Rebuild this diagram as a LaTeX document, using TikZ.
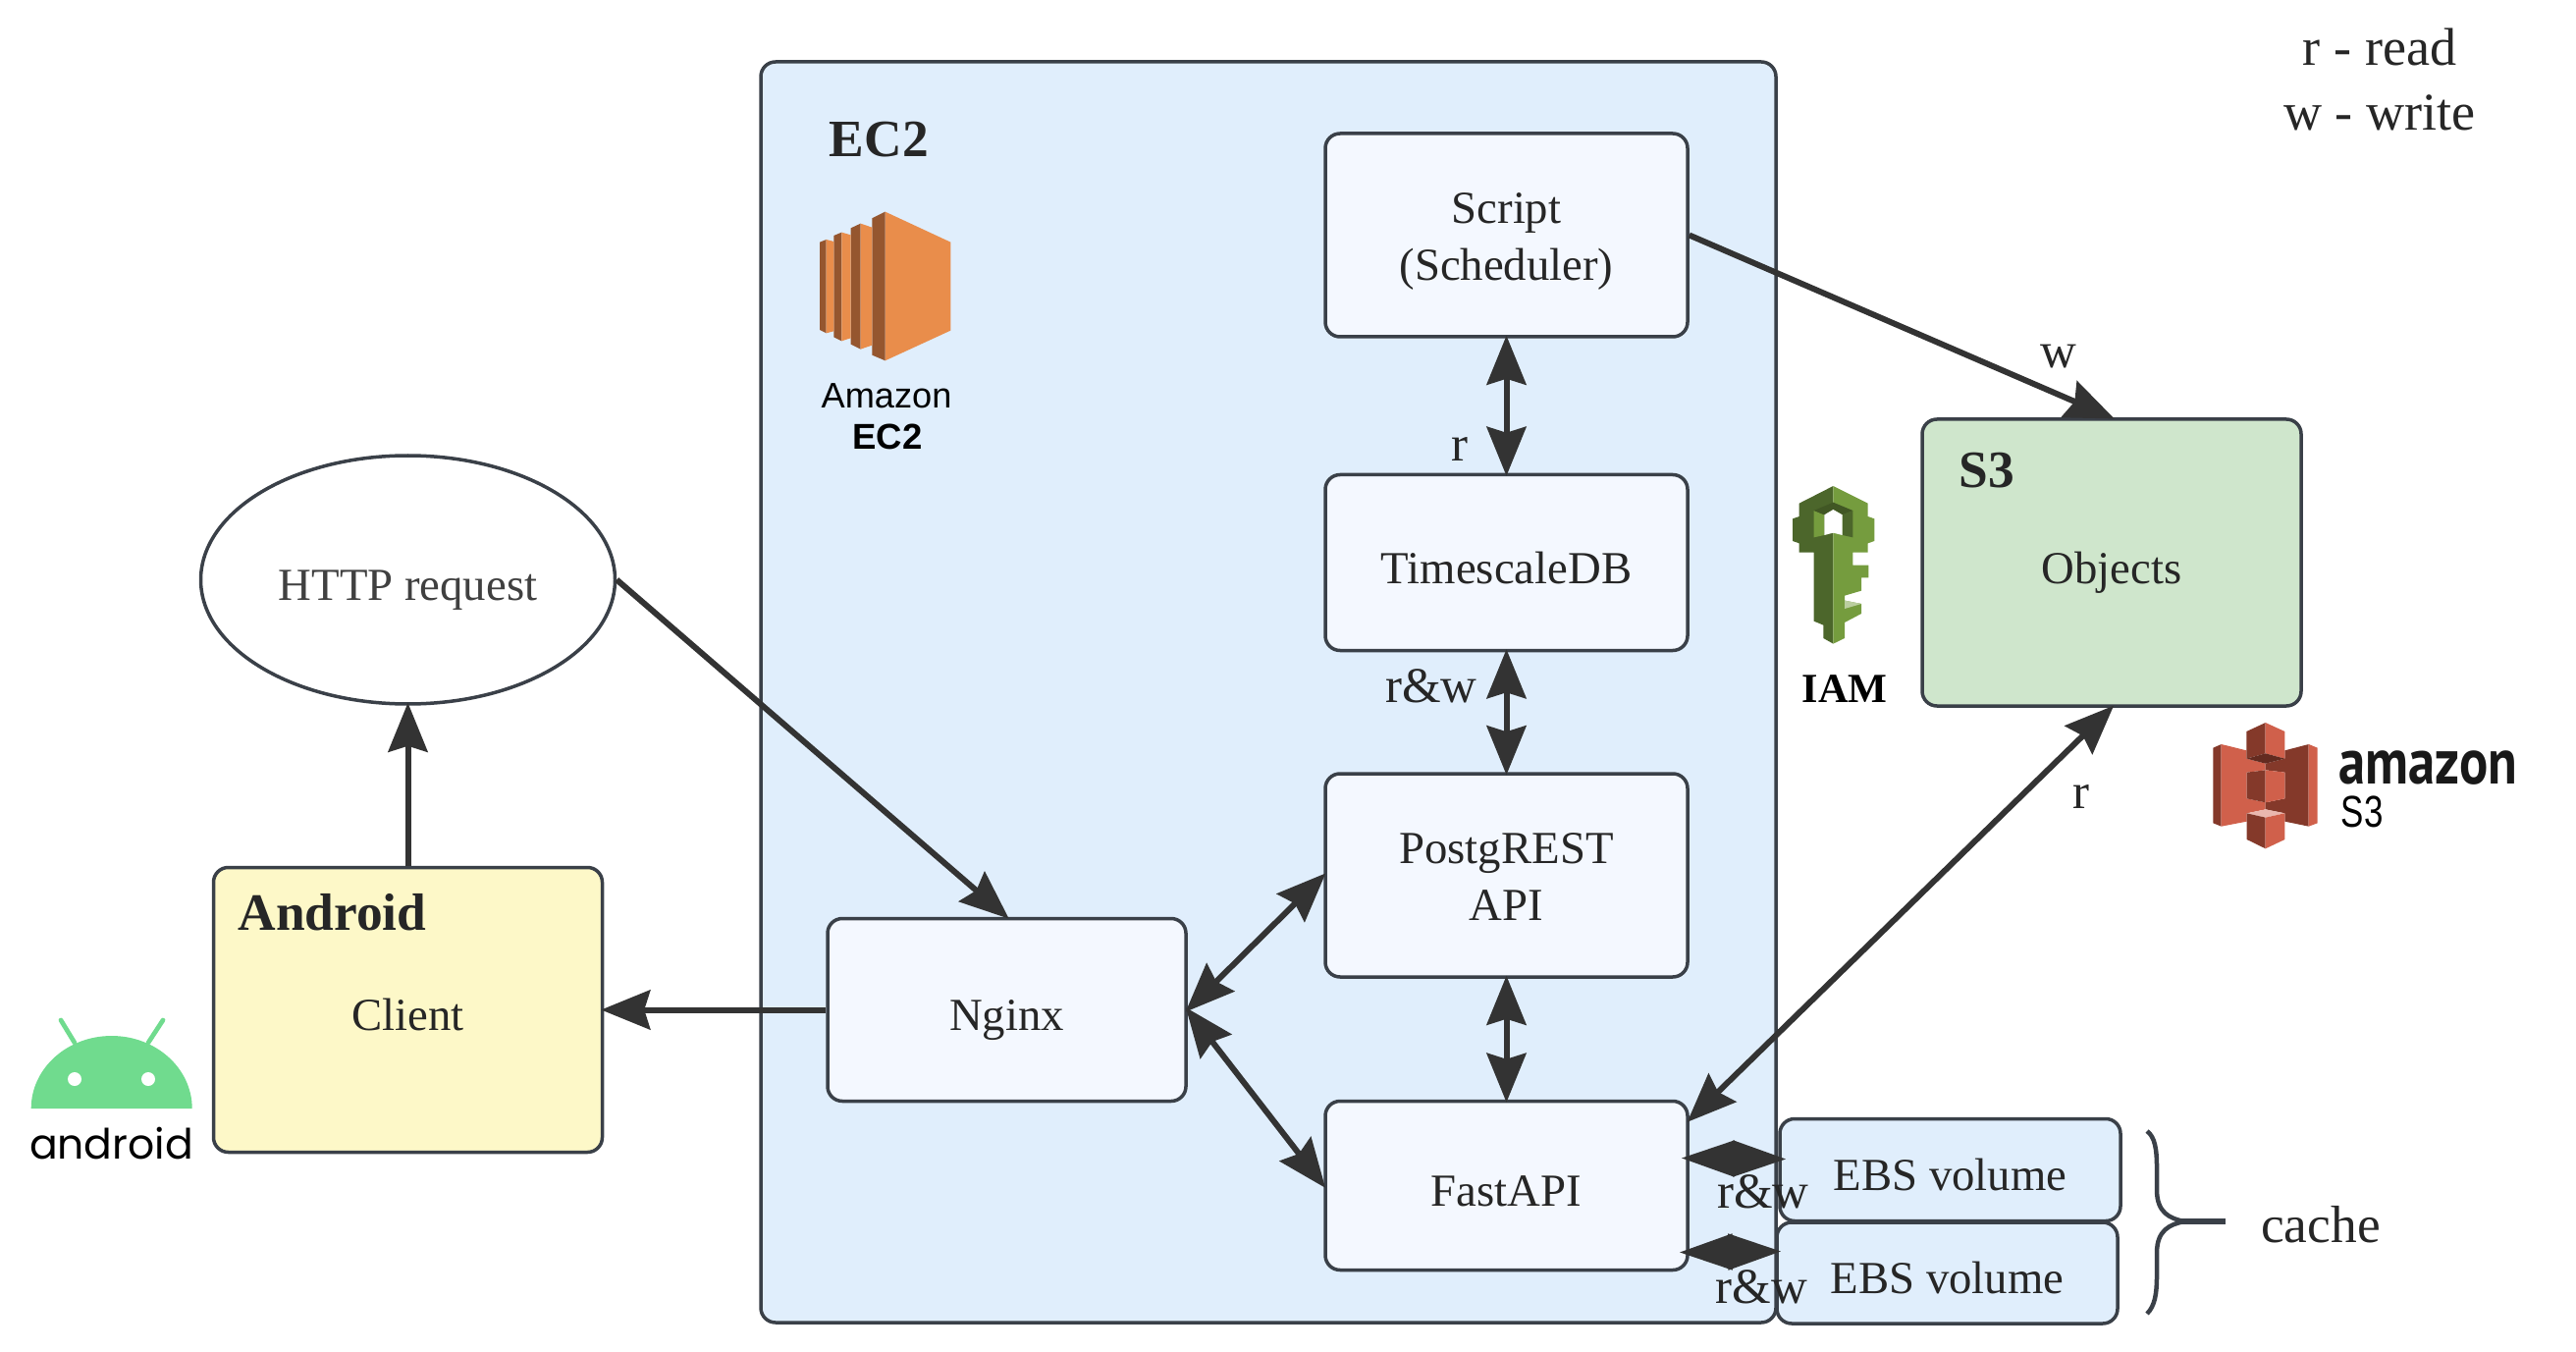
\documentclass[tikz,border=0pt]{standalone}
\usepackage{fontspec}
\setmainfont{Liberation Serif}
\newfontfamily\awsfont{Liberation Sans}
\newfontfamily\droidfont{Poppins}
\newfontfamily\logofont{PT Sans}
\usetikzlibrary{arrows.meta}
\usetikzlibrary{positioning}
\usetikzlibrary{shapes.geometric}
\definecolor{linedark}{HTML}{333333}
\definecolor{boxedge}{HTML}{3A4048}
\definecolor{frameblue}{HTML}{E0EEFC}
\definecolor{boxblue}{HTML}{F4F8FF}
\definecolor{droidyellow}{HTML}{FDF8C8}
\definecolor{bucketgreen}{HTML}{CFE6CC}
\definecolor{ec2light}{HTML}{E98D4B}
\definecolor{ec2dark}{HTML}{95562F}
\definecolor{s3light}{HTML}{D0604B}
\definecolor{s3dark}{HTML}{84392A}
\definecolor{keylight}{HTML}{759C3E}
\definecolor{keydark}{HTML}{4C662B}
\definecolor{droidgreen}{HTML}{70DB8E}
\tikzset{
    block/.style={
           rectangle,
           rounded corners=1.5mm,
           draw=boxedge, line width=0.35mm,
           fill=boxblue,
           text=black!85,
           font=\fontsize{13.3}{16.5}\selectfont,
           inner sep=0pt,
           text height=4.2mm,
           text depth=0pt,
           text centered,
           },
    twolines/.style={
           text height=10pt,
           text depth=0pt,
           },
    frameless/.style={
           inner sep=0pt,
           text=black!85,
           font=\fontsize{14.5}{17}\selectfont,
           },
    titletext/.style={
           frameless,
           anchor=base west,
           font=\fontsize{15.2}{18}\selectfont\bfseries,
           },
    oneway/.style={
           color=linedark, line width=0.6mm,
           shorten >=-0.3mm,
           -{Stealth[length=5mm,width=4mm,inset=0.6mm]},
           },
    twoway/.style={
           color=linedark, line width=0.6mm,
           shorten >=-0.3mm, shorten <=-0.3mm,
           {Stealth[length=5mm,width=4mm,inset=0.6mm]}-{Stealth[length=5mm,width=4mm,inset=0.6mm]},
           },
    twowayshort/.style={
           color=linedark, line width=0.5mm,
           {Stealth[length=5.4mm,width=3.6mm,inset=0mm]}-{Stealth[length=5.4mm,width=3.6mm,inset=0mm]},
           },
}

\begin{document}
\begin{tikzpicture}
	\useasboundingbox (0,0) rectangle (26.24,13.76);

	\node[block, fill=frameblue, minimum width=10.34cm, minimum height=12.84cm] (ec2) at (12.92,6.71) {};
	\node[titletext] (ec2title) at ([xshift=0.71cm,yshift=-0.98cm]ec2.north west) {EC2};

	\node[block, twolines, minimum width=3.69cm, minimum height=2.07cm] (script) at (15.345,11.365) {
		\begin{tabular}{c}
		Script\\
		(Scheduler)
		\end{tabular}
	};
	\node[block, below=1.37cm of script, minimum width=3.69cm, minimum height=1.79cm] (timescale) {TimescaleDB};
	\node[block, twolines, below=1.22cm of timescale, minimum width=3.69cm, minimum height=2.07cm] (postgrest) {
		\begin{tabular}{c}
		PostgREST\\
		API
		\end{tabular}
	};
	\node[block, below=1.23cm of postgrest, minimum width=3.69cm, minimum height=1.72cm] (fastapi) {FastAPI};
	\node[block, minimum width=3.65cm, minimum height=1.86cm] (nginx) at (10.255,3.475) {Nginx};
	\node[block, left=2.26cm of nginx, fill=droidyellow, minimum width=3.96cm, minimum height=2.9cm] (client) {Client};
	\node[titletext] (clienttitle) at ([xshift=0.26cm,yshift=-0.66cm]client.north west) {Android};
	\node[block, above=1.63cm of client, ellipse, fill=white, text=black!75, minimum width=4.22cm, minimum height=2.53cm] (http) {HTTP request};

	\node[block, fill=bucketgreen, minimum width=3.86cm, minimum height=2.92cm] (s3) at (21.51,8.03) {Objects};
	\node[titletext] (s3title) at ([xshift=0.39cm,yshift=-0.71cm]s3.north west) {S3};
	\node[block, fill=frameblue, minimum width=3.47cm, minimum height=1.04cm] (ebsa) at (19.865,1.845) {EBS volume};
	\node[block, below=-0.02cm of ebsa, xshift=-0.03cm, fill=frameblue, minimum width=3.47cm, minimum height=1.03cm] (ebsb) {EBS volume};

	\node[frameless, font=\fontsize{15.4}{18.7}\selectfont, align=center] (legend) at (24.24,12.95) {r - read\\w - write};
	\node[frameless, anchor=base, font=\fontsize{15.2}{18}\selectfont] (cache) at (23.64,1.11) {cache};
	\node[frameless, anchor=base, text=black, font=\fontsize{12}{14}\selectfont\bfseries] (iam) at (18.79,6.61) {IAM};

	\path[oneway] (script.east) edge node[pos=0.874,above=0.24cm,frameless] {w} (s3.north);
	\path[twoway] (script) edge node[pos=0.82,left=0.36cm,frameless] {r} (timescale);
	\path[twoway] (timescale) edge node[pos=0.28,left=0.27cm,frameless] {r\&w} (postgrest);
	\path[twoway] (postgrest) edge (fastapi);
	\path[twoway] (nginx.east) edge (postgrest.west);
	\path[twoway] (nginx.east) edge (fastapi.west);
	\path[twoway] ([yshift=-0.21cm]fastapi.north east) edge node[pos=0.785,right=0.5cm,frameless] {r} (s3.south);
	\path[oneway] (http.east) edge (nginx.north);
	\path[oneway] (client.north) edge (http.south);
	\path[oneway] (nginx.west) edge (client.east);
	\path[twowayshort] ([xshift=-0.08cm,yshift=0.28cm]fastapi.east) edge node[pos=0.78,below=0.14cm,frameless] {r\&w} ([xshift=0.08cm,yshift=0.11cm]ebsa.west);
	\path[twowayshort] ([xshift=-0.1cm,yshift=-0.68cm]fastapi.east) edge node[pos=0.81,below=0.16cm,frameless] {r\&w} ([xshift=0.06cm,yshift=0.22cm]ebsb.west);

	% icons, traced in pixels from the top left
	\begin{scope}[x=0.1mm,y=-0.1mm,yshift=13.76cm]
		% cache brace
		\draw[boxedge, line width=0.45mm] (2187,1152) .. controls (2195,1158) and (2197,1170) .. (2197,1190) -- (2197,1212) .. controls (2197,1235) and (2210,1241) .. (2225,1244) .. controls (2210,1247) and (2197,1253) .. (2197,1276) -- (2197,1298) .. controls (2197,1318) and (2195,1330) .. (2187,1338);
		\draw[boxedge, line width=0.6mm] (2218,1244) -- (2267,1244);
		% android
		\fill[droidgreen] (31.7,1129) arc[start angle=180,end angle=0,x radius=8.2mm,y radius=7.4mm] -- cycle;
		\draw[droidgreen, line width=0.47mm, line cap=round] (62,1039) -- (76,1062);
		\draw[droidgreen, line width=0.47mm, line cap=round] (166,1039) -- (151,1062);
		\fill[white] (76,1099) circle[radius=0.7mm];
		\fill[white] (151,1099) circle[radius=0.7mm];
		\node[anchor=base, inner sep=0pt, font=\droidfont\fontsize{12.1}{14}\selectfont] (droidlogo) at (113.5,1180) {android};
		% ec2
		\begin{scope}[shift={(780,60)},scale=0.3333]
			\fill[ec2light] (365,467) -- (565,560) -- (565,830) -- (365,922) -- cycle;
			\fill[ec2dark] (325,487) -- (365,467) -- (365,922) -- (325,905) -- cycle;
			\fill[ec2dark] (260,517) -- (290,503) -- (290,887) -- (260,872) -- cycle;
			\fill[ec2light] (290,503) -- (325,515) -- (325,875) -- (290,887) -- cycle;
			\fill[ec2dark] (208,540) -- (232,530) -- (232,862) -- (208,850) -- cycle;
			\fill[ec2light] (232,530) -- (260,538) -- (260,853) -- (232,862) -- cycle;
			\fill[ec2dark] (165,560) -- (185,552) -- (185,838) -- (165,828) -- cycle;
			\fill[ec2light] (185,552) -- (208,558) -- (208,832) -- (185,838) -- cycle;
		\end{scope}
		\node[anchor=base, inner sep=0pt, font=\awsfont\fontsize{10.3}{12}\selectfont] (ec2word) at (903,415) {Amazon};
		\node[anchor=base, inner sep=0pt, font=\awsfont\fontsize{10.4}{12}\selectfont\bfseries] (ec2logo) at (904,457) {EC2};
		% key
		\begin{scope}[shift={(1810,490)},scale=0.3333]
			\fill[keydark] (172,15) -- (68,68) -- (68,108) -- (48,115) -- (48,183) -- (68,190) -- (68,218) -- (113,218) -- (113,428) -- (142,440) -- (142,480) -- (172,497) -- cycle;
			\fill[keylight] (172,15) -- (278,68) -- (278,108) -- (298,115) -- (298,183) -- (278,190) -- (278,218) -- (232,218) -- (232,257) -- (280,257) -- (280,295) -- (258,295) -- (258,335) -- (207,350) -- (207,365) -- (258,375) -- (258,405) -- (207,432) -- (207,480) -- (172,497) -- cycle;
			\fill[keylight!50!white] (207,365) -- (258,375) -- (207,390) -- cycle;
			\fill[keylight] (113,90) -- (145,103) -- (145,165) -- (113,172) -- cycle;
			\fill[keydark] (232,90) -- (200,103) -- (200,165) -- (232,172) -- cycle;
			\fill[keydark!85!black] (113,90) -- (172,65) -- (232,90) -- (200,103) -- (172,87) -- (145,103) -- cycle;
			\fill[white] (145,103) -- (172,87) -- (200,103) -- (200,165) -- (172,158) -- (145,165) -- cycle;
		\end{scope}
		% s3
		\begin{scope}[shift={(2250,730)},scale=0.3333]
			\fill[s3dark] (13,95) -- (38,84) -- (38,335) -- (13,325) -- cycle;
			\fill[s3light] (38,84) -- (115,103) -- (115,128) -- (173,143) -- (173,163) -- (116,170) -- (116,250) -- (173,262) -- (173,283) -- (116,295) -- (116,320) -- (38,335) -- cycle;
			\fill[s3dark] (232,103) -- (305,84) -- (305,335) -- (232,320) -- (232,295) -- (173,283) -- (173,262) -- (232,250) -- (232,170) -- (173,163) -- (173,143) -- (232,128) -- cycle;
			\fill[s3light] (305,84) -- (332,95) -- (332,325) -- (305,335) -- cycle;
			\fill[s3dark] (115,45) -- (173,18) -- (173,112) -- (115,128) -- cycle;
			\fill[s3light] (173,18) -- (232,45) -- (232,128) -- (173,112) -- cycle;
			\fill[s3dark!75!black] (115,128) -- (173,112) -- (232,128) -- (173,143) -- cycle;
			\fill[s3dark] (116,170) -- (173,163) -- (173,262) -- (116,250) -- cycle;
			\fill[s3light] (173,163) -- (232,170) -- (232,250) -- (173,262) -- cycle;
			\fill[s3light!45!white] (116,295) -- (173,283) -- (232,295) -- (173,308) -- cycle;
			\fill[s3dark] (116,295) -- (173,308) -- (173,403) -- (116,375) -- cycle;
			\fill[s3light] (173,308) -- (232,295) -- (232,375) -- (173,403) -- cycle;
		\end{scope}
		\node[anchor=base west, inner sep=0pt, text=black!90] (s3word) at (2382,798) {\scalebox{0.83}[1]{\logofont\fontsize{18.7}{20}\selectfont\bfseries amazon}};
		\node[anchor=base west, inner sep=0pt] (s3logo) at (2384,842) {\scalebox{0.77}[1]{\awsfont\fontsize{12.9}{14}\selectfont S3}};
	\end{scope}
\end{tikzpicture}
\end{document}
